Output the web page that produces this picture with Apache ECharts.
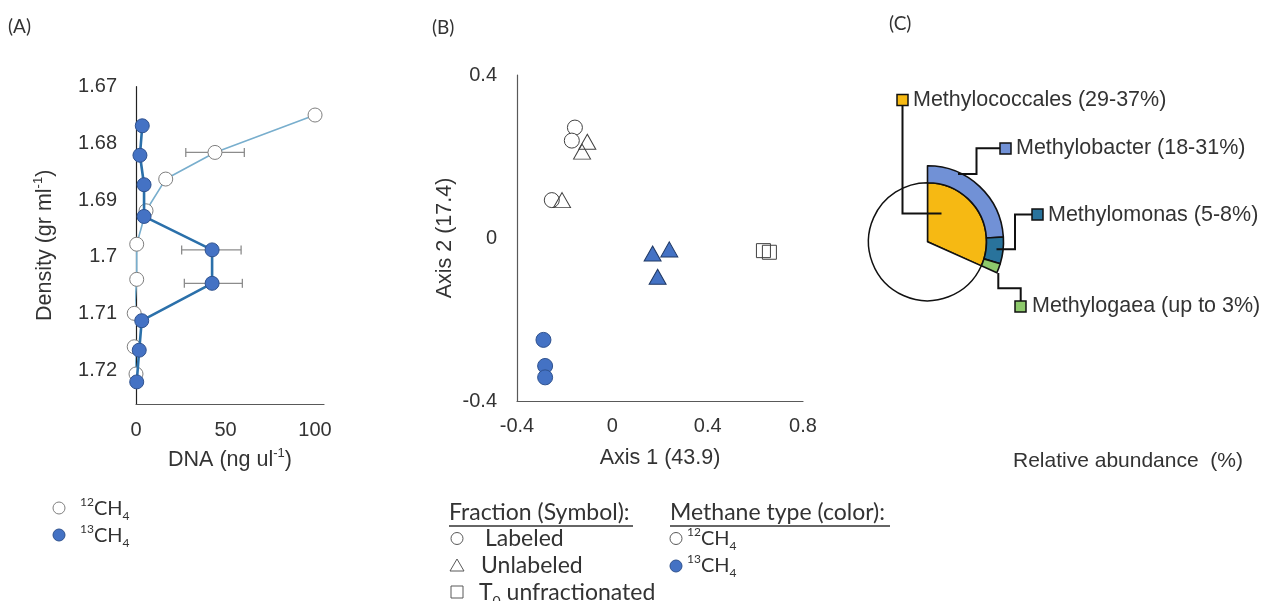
<!DOCTYPE html>
<html><head><meta charset="utf-8">
<script src="https://cdn.jsdelivr.net/npm/echarts@6/dist/echarts.min.js"></script>
<style>html,body{margin:0;padding:0;background:#fff}#c{width:1267px;height:601px}</style>
</head><body><div id="c"></div>
<script>
// ---------- Panel A: density gradient ----------
const densityTicks = [1.67, 1.68, 1.69, 1.7, 1.71, 1.72];
const dnaTicks = [0, 50, 100];
const density12 = [1.675, 1.6816, 1.6863, 1.6919, 1.6978, 1.704, 1.71, 1.7159, 1.7207];
const dna12 = [100, 44.1, 16.6, 5.6, 0.4, 0.4, -1, -1, 0];
const density13 = [1.6769, 1.6821, 1.6873, 1.6929, 1.6988, 1.7047, 1.7113, 1.7165, 1.7221];
const dna13 = [3.5, 2.2, 4.5, 4.5, 42.5, 42.5, 3.2, 1.8, 0.4];
const errDensity = [1.6816, 1.6988, 1.7047];
const errLow = [27.8, 25.5, 27.0];
const errHigh = [60.5, 58.7, 59.4];

// ---------- Panel B: PCoA ----------
const axis1Ticks = [-0.4, 0, 0.4, 0.8];
const axis2Ticks = [-0.4, 0, 0.4];
const lab12X = [-0.157, -0.170, -0.254];
const lab12Y = [0.271, 0.239, 0.093];
const unlab12X = [-0.105, -0.127, -0.211];
const unlab12Y = [0.236, 0.212, 0.093];
const unlab13X = [0.169, 0.239, 0.190];
const unlab13Y = [-0.038, -0.028, -0.095];
const lab13X = [-0.289, -0.282, -0.282];
const lab13Y = [-0.250, -0.314, -0.342];
const t0X = [0.634, 0.659];
const t0Y = [-0.031, -0.035];

// ---------- Panel C: relative abundance ----------
const orderNames = ['Methylococcales', 'Other'];
const orderValues = [31.7, 68.3];
const genusNames = ['Methylobacter', 'Methylomonas', 'Methylogaea', 'Rest'];
const genusValues = [24.0, 5.7, 2.0, 68.3];
const taxonLabels = ['Methylococcales (29-37%)', 'Methylobacter (18-31%)', 'Methylomonas (5-8%)', 'Methylogaea (up to 3%)'];

const zip = (xs, ys) => xs.map((x, i) => [x, ys[i]]);
const tickFmt = (ticks) => (v) => { const t = ticks.find(t => Math.abs(t - v) < 1e-6); return t === undefined ? '' : String(t); };

const TXT = '#333333';
const SANS = "'Liberation Sans', Arial, sans-serif";
const HUM = "Lato, 'Liberation Sans', sans-serif";
const BLUE = '#4472c4', BLUE_BORDER = '#2f528f';
const C_ORANGE = '#f6b913', C_BLUE = '#7191d6', C_TEAL = '#29739c', C_GREEN = '#8dc96b';

const supRich = {
  sup: { fontSize: 13, verticalAlign: 'top', lineHeight: 27, fontFamily: SANS, color: TXT },
};

const chart = echarts.init(document.getElementById('c'), null, { renderer: 'canvas' });

function legendText(x, y, parts, size) {
  const fs = size || 23;
  const sub = Math.round(fs * 0.62);
  const lh = Math.round(fs * 1.3);
  return { type: 'text', x: x, y: y, style: {
    text: parts, fontFamily: HUM, fontSize: fs, fill: TXT, verticalAlign: 'middle', align: 'left',
    rich: {
      m: { fontSize: fs, lineHeight: lh, fontFamily: HUM, color: TXT },
      sup: { fontSize: sub, lineHeight: lh, verticalAlign: 'top', fontFamily: HUM, color: TXT },
      sub: { fontSize: sub, lineHeight: lh, verticalAlign: 'bottom', fontFamily: HUM, color: TXT }
    } } };
}

const lineStyleBlack = { stroke: '#111', lineWidth: 2, fill: null };
const LBL = 21.5;
const graphics = [
  // panel labels
  { type: 'text', x: 8, y: 27, style: { text: '(A)', fontFamily: HUM, fontSize: 19, fill: TXT, verticalAlign: 'middle' } },
  { type: 'text', x: 432, y: 28, style: { text: '(B)', fontFamily: HUM, fontSize: 19, fill: TXT, verticalAlign: 'middle' } },
  { type: 'text', x: 889, y: 24, style: { text: '(C)', fontFamily: HUM, fontSize: 19, fill: TXT, verticalAlign: 'middle' } },
  // Panel A legend
  { type: 'circle', shape: { cx: 59, cy: 508, r: 6 }, style: { fill: '#fff', stroke: '#7f7f7f', lineWidth: 1 } },
  legendText(80, 509, '{sup|12}{m|CH}{sub|4}', 20),
  { type: 'circle', shape: { cx: 59, cy: 535, r: 6 }, style: { fill: BLUE, stroke: BLUE_BORDER, lineWidth: 1 } },
  legendText(80, 536, '{sup|13}{m|CH}{sub|4}', 20),
  // Panel B legend
  legendText(449, 513, '{m|Fraction (Symbol):}'),
  { type: 'line', shape: { x1: 449, y1: 526, x2: 633, y2: 526 }, style: { stroke: TXT, lineWidth: 1.3 } },
  legendText(670, 513, '{m|Methane type (color):}'),
  { type: 'line', shape: { x1: 670, y1: 526, x2: 890, y2: 526 }, style: { stroke: TXT, lineWidth: 1.3 } },
  { type: 'circle', shape: { cx: 457, cy: 538.5, r: 6 }, style: { fill: '#fff', stroke: '#595959', lineWidth: 1 } },
  legendText(485, 539, '{m|Labeled}'),
  { type: 'polygon', shape: { points: [[457, 559], [464, 571], [450, 571]] }, style: { fill: '#fff', stroke: '#595959', lineWidth: 1 } },
  legendText(481, 566, '{m|Unlabeled}'),
  { type: 'rect', shape: { x: 451, y: 586, width: 12, height: 12 }, style: { fill: '#fff', stroke: '#595959', lineWidth: 1 } },
  legendText(479, 593, '{m|T}{sub|0}{m| unfractionated}'),
  { type: 'circle', shape: { cx: 676, cy: 538.5, r: 6 }, style: { fill: '#fff', stroke: '#595959', lineWidth: 1 } },
  legendText(687, 539, '{sup|12}{m|CH}{sub|4}', 20),
  { type: 'circle', shape: { cx: 676, cy: 566, r: 6 }, style: { fill: BLUE, stroke: BLUE_BORDER, lineWidth: 1 } },
  legendText(687, 566, '{sup|13}{m|CH}{sub|4}', 20),
  // Panel C leader lines & labels
  { type: 'polyline', shape: { points: [[902.5, 105], [902.5, 213.5], [941.5, 213.5]] }, style: lineStyleBlack, z: 10 },
  { type: 'rect', shape: { x: 897, y: 94.5, width: 11, height: 11 }, style: { fill: C_ORANGE, stroke: '#111', lineWidth: 1.5 }, z: 10 },
  { type: 'text', x: 913, y: 100, style: { text: taxonLabels[0], fontFamily: SANS, fontSize: LBL, fill: TXT, verticalAlign: 'middle' }, z: 10 },
  { type: 'polyline', shape: { points: [[958, 174], [976.5, 174], [976.5, 148.3], [1000, 148.3]] }, style: lineStyleBlack, z: 10 },
  { type: 'rect', shape: { x: 1000, y: 143, width: 11, height: 11 }, style: { fill: C_BLUE, stroke: '#111', lineWidth: 1.5 }, z: 10 },
  { type: 'text', x: 1016, y: 148.3, style: { text: taxonLabels[1], fontFamily: SANS, fontSize: LBL, fill: TXT, verticalAlign: 'middle' }, z: 10 },
  { type: 'polyline', shape: { points: [[996.5, 249.3], [1015, 249.3], [1015, 214.5], [1033, 214.5]] }, style: lineStyleBlack, z: 10 },
  { type: 'rect', shape: { x: 1032, y: 209, width: 11, height: 11 }, style: { fill: C_TEAL, stroke: '#111', lineWidth: 1.5 }, z: 10 },
  { type: 'text', x: 1048, y: 215, style: { text: taxonLabels[2], fontFamily: SANS, fontSize: LBL, fill: TXT, verticalAlign: 'middle' }, z: 10 },
  { type: 'polyline', shape: { points: [[998.3, 273], [998.3, 288.3], [1020.7, 288.3], [1020.7, 301]] }, style: lineStyleBlack, z: 10 },
  { type: 'rect', shape: { x: 1015, y: 301, width: 11, height: 11 }, style: { fill: C_GREEN, stroke: '#111', lineWidth: 1.5 }, z: 10 },
  { type: 'text', x: 1032, y: 306.5, style: { text: taxonLabels[3], fontFamily: SANS, fontSize: LBL, fill: TXT, verticalAlign: 'middle' }, z: 10 },
  { type: 'text', x: 1013, y: 461, style: { text: 'Relative abundance  (%)', fontFamily: SANS, fontSize: 21, fill: TXT, verticalAlign: 'middle' } }
];

const axisCommon = {
  axisTick: { show: false },
  splitLine: { show: false },
  axisLabel: { color: TXT, fontSize: 20, fontFamily: SANS },
  nameTextStyle: { color: TXT, fontSize: 21.5, fontFamily: SANS, lineHeight: 27, rich: supRich },
  nameLocation: 'middle'
};

const option = {
  animation: false,
  backgroundColor: '#fff',
  grid: [
    { left: 136, top: 86.7, width: 188, height: 317.3 },
    { left: 517, top: 75, width: 286, height: 326 }
  ],
  xAxis: [
    Object.assign({}, axisCommon, {
      gridIndex: 0, type: 'value', min: 0, max: 105, interval: 50,
      axisLine: { lineStyle: { color: '#595959', width: 1.2 } },
      axisLabel: Object.assign({}, axisCommon.axisLabel, { margin: 16, formatter: tickFmt(dnaTicks) }),
      name: 'DNA (ng ul{sup|-1})', nameGap: 43
    }),
    Object.assign({}, axisCommon, {
      gridIndex: 1, type: 'value', min: -0.4, max: 0.8, interval: 0.4,
      axisLine: { onZero: false, lineStyle: { color: '#595959', width: 1.2 } },
      axisLabel: Object.assign({}, axisCommon.axisLabel, { margin: 15, formatter: tickFmt(axis1Ticks) }),
      name: 'Axis 1 (43.9)', nameGap: 44
    })
  ],
  yAxis: [
    Object.assign({}, axisCommon, {
      gridIndex: 0, type: 'value', inverse: true, min: 1.67, max: 1.726, interval: 0.01,
      axisLine: { lineStyle: { color: '#222', width: 1.2 } },
      axisLabel: Object.assign({}, axisCommon.axisLabel, { margin: 19, formatter: tickFmt(densityTicks) }),
      name: 'Density (gr ml{sup|-1})', nameGap: 77
    }),
    Object.assign({}, axisCommon, {
      gridIndex: 1, type: 'value', min: -0.4, max: 0.4, interval: 0.4,
      axisLine: { onZero: false, lineStyle: { color: '#595959', width: 1.2 } },
      axisLabel: Object.assign({}, axisCommon.axisLabel, { margin: 20, formatter: tickFmt(axis2Ticks) }),
      name: 'Axis 2 (17.4)', nameGap: 37
    })
  ],
  graphic: graphics,
  series: [
    {
      name: 'err', type: 'custom', xAxisIndex: 0, yAxisIndex: 0, silent: true, z: 1,
      encode: { x: [0, 1], y: 2 },
      data: errDensity.map((d, i) => [errLow[i], errHigh[i], d]),
      renderItem: function (params, api) {
        const y = api.value(2);
        const p1 = api.coord([api.value(0), y]);
        const p2 = api.coord([api.value(1), y]);
        const h = 4.5, st = { stroke: '#8c8c8c', lineWidth: 1.3 };
        return { type: 'group', children: [
          { type: 'line', shape: { x1: p1[0], y1: p1[1], x2: p2[0], y2: p2[1] }, style: st },
          { type: 'line', shape: { x1: p1[0], y1: p1[1] - h, x2: p1[0], y2: p1[1] + h }, style: st },
          { type: 'line', shape: { x1: p2[0], y1: p2[1] - h, x2: p2[0], y2: p2[1] + h }, style: st }
        ] };
      }
    },
    {
      name: '12CH4', type: 'line', xAxisIndex: 0, yAxisIndex: 0, z: 2, clip: false,
      data: zip(dna12, density12),
      symbol: 'circle', symbolSize: 14,
      lineStyle: { color: '#78aecd', width: 1.6 },
      itemStyle: { color: '#ffffff', borderColor: '#7f7f7f', borderWidth: 1, opacity: 1 }
    },
    {
      name: '13CH4', type: 'line', xAxisIndex: 0, yAxisIndex: 0, z: 3, clip: false,
      data: zip(dna13, density13),
      symbol: 'circle', symbolSize: 14,
      lineStyle: { color: '#2b70aa', width: 2.6 },
      itemStyle: { color: BLUE, borderColor: BLUE_BORDER, borderWidth: 1, opacity: 1 }
    },
    {
      name: 'Labeled 12CH4', type: 'scatter', xAxisIndex: 1, yAxisIndex: 1,
      data: zip(lab12X, lab12Y), symbol: 'circle', symbolSize: 15,
      itemStyle: { color: '#fff', borderColor: '#404040', borderWidth: 1, opacity: 1 }
    },
    {
      name: 'Unlabeled 12CH4', type: 'scatter', xAxisIndex: 1, yAxisIndex: 1,
      data: zip(unlab12X, unlab12Y), symbol: 'triangle', symbolSize: [17, 15],
      itemStyle: { color: 'rgba(255,255,255,0)', borderColor: '#404040', borderWidth: 1, opacity: 1 }
    },
    {
      name: 'Unlabeled 13CH4', type: 'scatter', xAxisIndex: 1, yAxisIndex: 1,
      data: zip(unlab13X, unlab13Y), symbol: 'triangle', symbolSize: [17, 15],
      itemStyle: { color: BLUE, borderColor: '#1f3864', borderWidth: 1, opacity: 1 }
    },
    {
      name: 'Labeled 13CH4', type: 'scatter', xAxisIndex: 1, yAxisIndex: 1,
      data: zip(lab13X, lab13Y), symbol: 'circle', symbolSize: 15,
      itemStyle: { color: BLUE, borderColor: BLUE_BORDER, borderWidth: 1, opacity: 1 }
    },
    {
      name: 'T0', type: 'scatter', xAxisIndex: 1, yAxisIndex: 1,
      data: zip(t0X, t0Y), symbol: 'rect', symbolSize: 14,
      itemStyle: { color: 'rgba(255,255,255,0)', borderColor: '#404040', borderWidth: 1, opacity: 1 }
    },
    {
      name: 'order', type: 'pie', center: [927.5, 241.7], radius: [0, 59], startAngle: 90, clockwise: true,
      silent: true, label: { show: false }, labelLine: { show: false }, z: 2,
      data: orderNames.map((n, i) => ({ name: n, value: orderValues[i],
        itemStyle: { color: i === 0 ? C_ORANGE : '#ffffff', borderColor: '#111', borderWidth: 1.5 } }))
    },
    {
      name: 'genus', type: 'pie', center: [927.5, 241.7], radius: [59, 76], startAngle: 90, clockwise: true,
      silent: true, label: { show: false }, labelLine: { show: false }, z: 3,
      data: genusNames.map((n, i) => ({ name: n, value: genusValues[i],
        itemStyle: i < 3 ? { color: [C_BLUE, C_TEAL, C_GREEN][i], borderColor: '#111', borderWidth: 1.6 }
                         : { color: 'rgba(0,0,0,0)', borderWidth: 0 } }))
    }
  ]
};
chart.setOption(option);
</script>
</body></html>
